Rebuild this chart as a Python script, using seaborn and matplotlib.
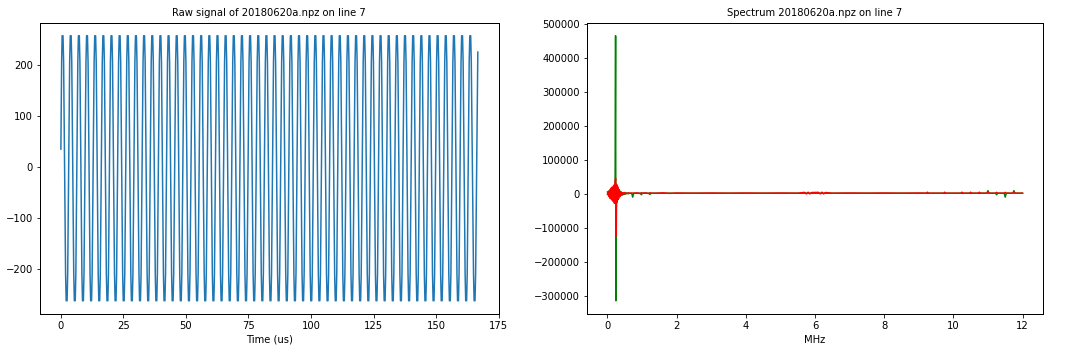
import numpy as np
import pandas as pd
import matplotlib
matplotlib.use("Agg")
import matplotlib.pyplot as plt
import seaborn as sns

# ---------------- data: raw signal (extremes) ----------------
start_t = [0.0]
start_v = [35]
peak_t = [0.67, 3.93, 7.19, 10.45, 13.71, 16.97, 20.23, 23.49, 26.75, 30.01,
          33.27, 36.53, 39.79, 43.05, 46.31, 49.57, 52.83, 56.09, 59.35, 62.61,
          65.87, 69.13, 72.39, 75.65, 78.91, 82.17, 85.43, 88.69, 91.95, 95.21,
          98.47, 101.73, 104.99, 108.25, 111.51, 114.77, 118.03, 121.29, 124.55, 127.81,
          131.07, 134.33, 137.59, 140.85, 144.11, 147.37, 150.63, 153.89, 157.15, 160.41,
          163.67]
trough_t = [2.30, 5.56, 8.82, 12.08, 15.34, 18.60, 21.86, 25.12, 28.38, 31.64,
            34.90, 38.16, 41.42, 44.68, 47.94, 51.20, 54.46, 57.72, 60.98, 64.24,
            67.50, 70.76, 74.02, 77.28, 80.54, 83.80, 87.06, 90.32, 93.58, 96.84,
            100.10, 103.36, 106.62, 109.88, 113.14, 116.40, 119.66, 122.92, 126.18, 129.44,
            132.70, 135.96, 139.22, 142.48, 145.74, 149.00, 152.26, 155.52, 158.78, 162.04,
            165.40]
peak_level = 257
trough_level = -262
# shape of the rounded (clipped) extremes: time offsets and levels relative to each extreme
cap_dt = [-0.42, -0.18, 0.18, 0.42]
cap_frac = [0.80, 1.0, 1.0, 0.80]
end_t = [166.7]
end_v = [225]

# ---------------- data: spectrum ----------------
spec_f = [0.00, 0.02, 0.04, 0.06, 0.08, 0.10, 0.12, 0.14, 0.16, 0.18,
          0.20, 0.22, 0.235, 0.245, 0.26, 0.28, 0.30, 0.32, 0.34, 0.36,
          0.38, 0.40, 0.43, 0.46, 0.50, 0.55, 0.60, 0.65, 0.70, 0.73,
          0.76, 0.85, 0.95, 0.98, 1.01, 1.10, 1.20, 1.23, 1.26, 1.40,
          1.60, 1.80, 2.00, 2.50, 3.00, 3.50, 4.00, 4.50, 5.00, 5.50,
          5.70, 5.75, 5.80, 5.85, 5.90, 6.10, 6.15, 6.20, 6.25, 6.30,
          6.50, 7.00, 7.50, 8.00, 8.50, 9.00, 9.22, 9.25, 9.28, 9.50,
          9.72, 9.75, 9.78, 10.00, 10.22, 10.25, 10.28, 10.47, 10.50, 10.53,
          10.72, 10.75, 10.78, 10.97, 11.00, 11.03, 11.22, 11.25, 11.28, 11.47,
          11.50, 11.53, 11.72, 11.75, 11.78, 12.00]
spec_re = [5000, -3000, 8000, -6000, 12000, -9000, 14000, -12000, 18000, -15000,
           22000, -20000, 465000, -315000, -45000, 25000, -18000, 14000, -10000, 8000,
           -6000, 5000, -4000, 3000, -2000, 2500, 0, 1500, 1500, -10000,
           1500, 1500, 1500, -3000, 1500, 1500, 1500, -2000, 1500, 1500,
           1500, 1500, 1500, 1500, 1500, 1500, 1500, 1500, 1500, 1500,
           1500, 1500, 1500, 1500, 1500, 1500, 1500, 1500, 1500, 1500,
           1500, 1500, 1500, 1500, 1500, 1500, 1500, 1500, 1500, 1500,
           1500, 1500, 1500, 1500, 1500, 1500, 1500, 1500, 1500, 1500,
           1500, 1500, 1500, 1500, 9000, 1500, 1500, -3000, 1500, 1500,
           -10000, 1500, 1500, 9000, 1500, 1500]
spec_im = [-2000, 6000, -8000, 10000, -14000, 16000, -18000, 20000, -22000, 25000,
           -28000, 30000, 45000, -125000, 28000, -25000, 20000, -15000, 12000, -8000,
           6000, -4000, 3000, -2500, 3500, 0, 2500, 1500, 1500, 2000,
           1500, 2500, 500, 3000, 1500, 2500, 500, 3000, 1500, 1500,
           2500, 1000, 2000, 1500, 2000, 1500, 2000, 1500, 2000, 1500,
           4000, -500, 4500, -500, 3500, 4000, -500, 4500, -500, 3500,
           1500, 2000, 1500, 2000, 1500, 2000, 1500, 4500, 1500, 1500,
           1500, 4500, 1500, 1500, 1500, 4500, 1500, 1500, 4500, 1500,
           1500, 4500, 1500, 1500, 4000, 1500, 1500, 4000, 1500, 1500,
           4000, 1500, 1500, 4500, 1500, 1500]

# build raw-signal series from the listed extremes
sig_t = list(start_t)
sig_v = list(start_v)
for p, q in zip(peak_t, trough_t):
    for dt, fr in zip(cap_dt, cap_frac):
        sig_t.append(p + dt)
        sig_v.append(peak_level * fr)
    for dt, fr in zip(cap_dt, cap_frac):
        sig_t.append(q + dt)
        sig_v.append(trough_level * fr)
sig_t[1] = 0.3  # first rise begins from the start value
sig_t += end_t
sig_v += end_v
raw = pd.DataFrame({"t": sig_t, "v": sig_v})
spec = pd.DataFrame({"f": spec_f, "re": spec_re, "im": spec_im})

W, H, DPI = 1072, 352, 72
fig = plt.figure(figsize=(W / DPI, H / DPI), dpi=DPI, facecolor="white")
ax1 = fig.add_axes([40 / W, 38 / H, 458.7 / W, 291.5 / H])
ax2 = fig.add_axes([586.7 / W, 38 / H, 456.6 / W, 291.5 / H])

sns.lineplot(data=raw, x="t", y="v", ax=ax1, color="#1f77b4", linewidth=1.5,
             sort=False, estimator=None)
ax1.set_title("Raw signal of 20180620a.npz on line 7", fontsize=10)
ax1.set_xlabel("Time (us)", fontsize=10)
ax1.set_ylabel("")
ax1.set_xticks([0, 25, 50, 75, 100, 125, 150, 175])
ax1.set_xlim(-8.35, 175.05)
ax1.set_ylim(-288, 283)

sns.lineplot(data=spec, x="f", y="re", ax=ax2, color="g", linewidth=1.5,
             sort=False, estimator=None)
sns.lineplot(data=spec, x="f", y="im", ax=ax2, color="r", linewidth=1.5,
             sort=False, estimator=None)
ax2.set_title("Spectrum 20180620a.npz on line 7", fontsize=10)
ax2.set_xlabel("MHz", fontsize=10)
ax2.set_ylabel("")
ax2.set_xticks([0, 2, 4, 6, 8, 10, 12])
ax2.set_yticks([-300000, -200000, -100000, 0, 100000, 200000, 300000, 400000, 500000])
ax2.ticklabel_format(axis="y", style="plain", useOffset=False)

for ax in (ax1, ax2):
    ax.tick_params(labelsize=10)
    for s in ax.spines.values():
        s.set_color("black")
        s.set_linewidth(1.0)

fig.savefig("out.png", dpi=DPI, facecolor="white")
